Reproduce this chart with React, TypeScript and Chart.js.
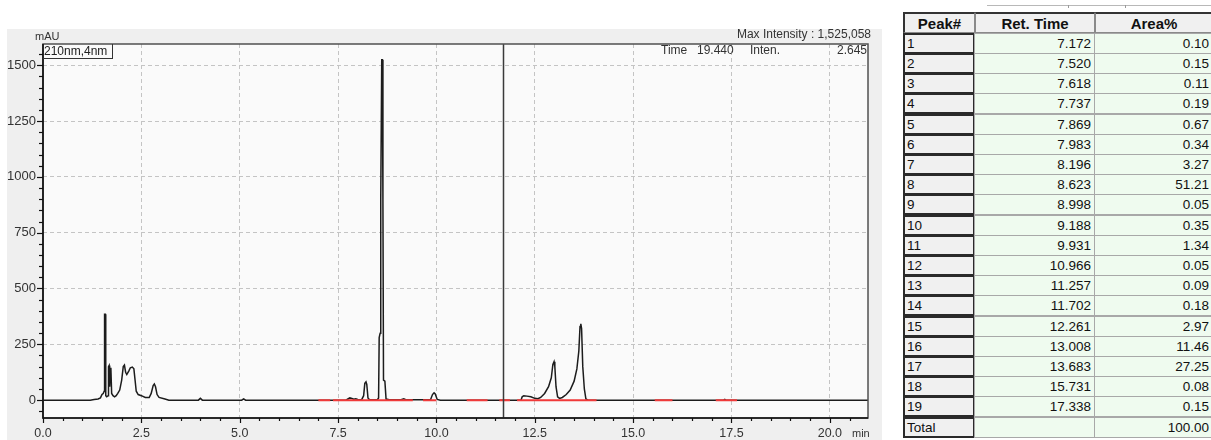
import React, { useEffect, useRef } from "react";
import { Chart, registerables } from "chart.js";

Chart.register(...registerables);

// ---- chromatogram trace (time in min, intensity in mAU) ----
const TRACE_TIME = [
  0.0, 1.2, 1.3, 1.4, 1.46, 1.5, 1.53, 1.555, 1.565, 1.585, 1.595, 1.62, 1.655, 1.665, 1.68, 1.695,
  1.71, 1.725, 1.745, 1.78, 1.82, 1.86, 1.9, 1.95, 2.0, 2.04, 2.07, 2.1, 2.13, 2.18, 2.22, 2.27,
  2.31, 2.34, 2.37, 2.42, 2.5, 2.6, 2.7, 2.75, 2.8, 2.83, 2.86, 2.9, 2.95, 3.1, 3.2,
  3.95, 4.0, 4.05, 5.05, 5.1, 5.15,
  7.7, 7.75, 7.8, 7.85, 7.9, 7.95, 8.0, 8.1, 8.15, 8.18, 8.21, 8.23, 8.26, 8.3,
  8.5, 8.53, 8.545, 8.57, 8.585, 8.61, 8.625, 8.64, 8.655, 8.69, 8.72, 8.8,
  9.1, 9.17, 9.22, 9.85, 9.9, 9.94, 9.97, 10.02, 10.1,
  12.15, 12.18, 12.22, 12.3, 12.4, 12.5, 12.58, 12.65, 12.75, 12.85, 12.92, 12.96, 12.99, 13.01,
  13.04, 13.08, 13.13, 13.2, 13.3, 13.4, 13.5, 13.57, 13.62, 13.65, 13.67, 13.69, 13.72, 13.76,
  13.8, 13.85, 17.3, 17.33, 17.36, 21.0,
];
const TRACE_MAU = [
  0, 0, 3, 5, 10, 25, 30, 40, 385, 385, 20, 15, 20, 150, 155, 60,
  140, 145, 30, 20, 15, 20, 30, 45, 90, 150, 157, 125, 115, 130, 145, 148,
  140, 90, 40, 25, 20, 12, 12, 30, 65, 72, 60, 25, 12, 5, 0,
  0, 8, 0, 0, 6, 0,
  0, 5, 10, 8, 4, 6, 3, 2, 20, 75, 82, 70, 10, 2,
  2, 10, 280, 300, 900, 1525, 1525, 900, 90, 85, 5, 2,
  2, 6, 2, 2, 25, 33, 28, 3, 0,
  0, 15, 20, 18, 15, 8, 6, 12, 30, 60, 100, 160, 172, 150,
  60, 15, 8, 12, 25, 45, 85, 140, 220, 330, 342, 320, 150, 50,
  5, 0, 0, 3, 0, 0,
];

// integration baselines (red), start/end times in min
const BASELINE_START = [7.0, 7.37, 9.66, 10.77, 11.6, 12.05, 15.55, 17.1];
const BASELINE_END = [7.3, 9.4, 10.0, 11.3, 11.87, 14.07, 16.0, 17.64];

const X_TICKS = [0, 2.5, 5, 7.5, 10, 12.5, 15, 17.5, 20];
const Y_TICKS = [0, 250, 500, 750, 1000, 1250, 1500];
const X_MIN = 0;
const X_MAX = 20.97;
const Y_MIN = -80;
const Y_MAX = 1595;
const X_MINOR_STEP = 0.5;
const Y_MINOR_STEP = 50;
const CURSOR_TIME = 11.7;

// ---- peak table ----
const PEAK_NO = ["1", "2", "3", "4", "5", "6", "7", "8", "9", "10", "11", "12", "13", "14", "15", "16", "17", "18", "19"];
const RET_TIME = ["7.172", "7.520", "7.618", "7.737", "7.869", "7.983", "8.196", "8.623", "8.998", "9.188", "9.931", "10.966", "11.257", "11.702", "12.261", "13.008", "13.683", "15.731", "17.338"];
const AREA_PCT = ["0.10", "0.15", "0.11", "0.19", "0.67", "0.34", "3.27", "51.21", "0.05", "0.35", "1.34", "0.05", "0.09", "0.18", "2.97", "11.46", "27.25", "0.08", "0.15"];
const AREA_TOTAL = "100.00";

const FONT = "'Liberation Sans', Arial, Helvetica, sans-serif";

const chromPlugin = {
  id: "chromDecor",
  beforeDraw(chart: any) {
    const { ctx, chartArea: a } = chart;
    ctx.save();
    ctx.fillStyle = "#fafafa";
    ctx.fillRect(a.left, a.top, a.right - a.left, a.bottom - a.top);
    ctx.restore();
  },
  afterDatasetsDraw(chart: any) {
    const { ctx, chartArea: a, scales } = chart;
    const xs = scales.x;
    const ys = scales.y;
    ctx.save();
    // cursor line
    const cx = Math.round(xs.getPixelForValue(CURSOR_TIME)) + 0.5;
    ctx.strokeStyle = "#3a3a3a";
    ctx.lineWidth = 1.5;
    ctx.beginPath();
    ctx.moveTo(cx, a.top);
    ctx.lineTo(cx, a.bottom);
    ctx.stroke();
    // frame
    ctx.strokeStyle = "#505050";
    ctx.lineWidth = 1.5;
    ctx.strokeRect(a.left, a.top, a.right - a.left, a.bottom - a.top);
    // axes
    ctx.strokeStyle = "#111";
    ctx.lineWidth = 1.6;
    ctx.beginPath();
    ctx.moveTo(a.left, a.top);
    ctx.lineTo(a.left, a.bottom);
    ctx.lineTo(a.right, a.bottom);
    ctx.stroke();
    // ticks
    ctx.lineWidth = 1.2;
    ctx.strokeStyle = "#111";
    for (let v = Math.ceil(Y_MIN / Y_MINOR_STEP) * Y_MINOR_STEP; v <= Y_MAX; v += Y_MINOR_STEP) {
      const py = Math.round(ys.getPixelForValue(v)) + 0.5;
      const major = Y_TICKS.includes(v);
      ctx.beginPath();
      ctx.moveTo(a.left - (major ? 6 : 4), py);
      ctx.lineTo(a.left, py);
      ctx.stroke();
    }
    for (let v = X_MIN; v <= X_MAX; v += X_MINOR_STEP) {
      const px = Math.round(xs.getPixelForValue(v)) + 0.5;
      const major = X_TICKS.some((t) => Math.abs(t - v) < 1e-6);
      ctx.beginPath();
      ctx.moveTo(px, a.bottom);
      ctx.lineTo(px, a.bottom + (major ? 5 : 3));
      ctx.stroke();
    }
    ctx.restore();
  },
};

function ChromChart() {
  const ref = useRef<HTMLCanvasElement | null>(null);
  useEffect(() => {
    if (!ref.current) return;
    const trace = TRACE_TIME.map((t, i) => ({ x: t, y: TRACE_MAU[i] }));
    const base: any[] = [];
    BASELINE_START.forEach((s, i) => {
      base.push({ x: s, y: 0 });
      base.push({ x: BASELINE_END[i], y: 0 });
      base.push({ x: BASELINE_END[i] + 0.01, y: null });
    });
    const chart = new Chart(ref.current, {
      type: "line",
      data: {
        datasets: [
          {
            data: base,
            borderColor: "#f03a3a",
            borderWidth: 2,
            pointRadius: 0,
            spanGaps: false,
            order: 0,
          },
          {
            data: trace,
            borderColor: "#1c1c1c",
            borderWidth: 1.5,
            pointRadius: 0,
            tension: 0,
            order: 5,
          },
        ],
      },
      options: {
        animation: false,
        responsive: false,
        maintainAspectRatio: false,
        events: [],
        layout: { padding: { top: 15, right: 14, left: 0, bottom: 0 } },
        plugins: { legend: { display: false }, tooltip: { enabled: false } },
        scales: {
          x: {
            type: "linear",
            min: X_MIN,
            max: X_MAX,
            afterBuildTicks: (s: any) => {
              s.ticks = X_TICKS.map((v) => ({ value: v }));
            },
            afterFit: (s: any) => {
              s.height = 22;
            },
            ticks: {
              autoSkip: false,
              maxRotation: 0,
              padding: 8,
              color: "#333",
              font: { family: FONT, size: 12.5 },
              callback: (v: any) => Number(v).toFixed(1),
            },
            grid: {
              drawTicks: false,
              color: (c: any) => (c.tick && c.tick.value === 0 ? "rgba(0,0,0,0)" : "#c4c4c4"),
              lineWidth: 1,
            },
            border: { display: false, dash: [4, 3] },
          },
          y: {
            type: "linear",
            min: Y_MIN,
            max: Y_MAX,
            afterBuildTicks: (s: any) => {
              s.ticks = Y_TICKS.map((v) => ({ value: v }));
            },
            afterFit: (s: any) => {
              s.width = 36;
            },
            ticks: {
              autoSkip: false,
              padding: 7,
              color: "#333",
              font: { family: FONT, size: 13 },
              callback: (v: any) => String(v),
            },
            grid: {
              drawTicks: false,
              color: (c: any) => (c.tick && c.tick.value === 0 ? "rgba(0,0,0,0)" : "#c4c4c4"),
              lineWidth: 1,
            },
            border: { display: false, dash: [4, 3] },
          },
        },
      },
      plugins: [chromPlugin],
    });
    return () => chart.destroy();
  }, []);
  return (
    <canvas
      ref={ref}
      width={875}
      height={411}
      style={{ position: "absolute", left: 7, top: 29, width: 875, height: 411, background: "#efefef" }}
    />
  );
}

const ROW_TOP = 32.7;
const ROW_H = 20.2;
const COL_X = [903, 975, 1095, 1213];

function PeakTable() {
  const cells: any[] = [];
  const txt = { fontFamily: FONT, fontSize: 13.5, color: "#111", lineHeight: "19px" };
  const headers = ["Peak#", "Ret. Time", "Area%"];
  headers.forEach((h, c) => {
    cells.push(
      <div
        key={"h" + c}
        style={{
          position: "absolute",
          left: COL_X[c],
          top: 12,
          width: COL_X[c + 1] - COL_X[c],
          height: ROW_TOP - 12,
          boxSizing: "border-box",
          background: "#f0f0f0",
          border: "1px solid #8a8a8a",
          borderTop: "2px solid #333",
          borderLeft: c === 0 ? "2px solid #333" : "1px solid #8a8a8a",
          textAlign: "center",
          fontFamily: FONT,
          fontWeight: "bold",
          fontSize: 15,
          lineHeight: "19px",
          color: "#111",
        }}
      >
        {h}
      </div>
    );
  });
  const rowsPk = [...PEAK_NO, "Total"];
  const rowsRt = [...RET_TIME, ""];
  const rowsAr = [...AREA_PCT, AREA_TOTAL];
  rowsPk.forEach((p, i) => {
    const top = ROW_TOP + i * ROW_H;
    cells.push(
      <div
        key={"p" + i}
        style={{
          position: "absolute",
          left: COL_X[0],
          top,
          width: COL_X[1] - COL_X[0],
          height: ROW_H + 1,
          boxSizing: "border-box",
          background: "#f0f0f0",
          border: "2px solid #2a2a2a",
          paddingLeft: 2,
          ...txt,
          lineHeight: ROW_H - 3 + "px",
        }}
      >
        {p}
      </div>
    );
    [rowsRt[i], rowsAr[i]].forEach((v, c) => {
      cells.push(
        <div
          key={"d" + i + "_" + c}
          style={{
            position: "absolute",
            left: COL_X[c + 1] - 1,
            top,
            width: COL_X[c + 2] - COL_X[c + 1] + 1,
            height: ROW_H + 1,
            boxSizing: "border-box",
            background: "#effbef",
            border: "1px solid #a8a8a8",
            textAlign: "right",
            paddingRight: 3,
            ...txt,
            lineHeight: ROW_H - 1 + "px",
          }}
        >
          {v}
        </div>
      );
    });
  });
  return <>{cells}</>;
}

export default function App() {
  const small = { position: "absolute" as const, fontFamily: FONT, color: "#333", whiteSpace: "nowrap" as const };
  return (
    <div style={{ position: "absolute", left: 0, top: 0, width: 1211, height: 440, background: "#fff", overflow: "hidden" }}>
      <ChromChart />
      <div style={{ ...small, left: 35, top: 30, fontSize: 11, lineHeight: "12px" }}>mAU</div>
      <div
        style={{
          ...small,
          left: 43,
          top: 44,
          width: 70,
          height: 15,
          boxSizing: "border-box",
          border: "1px solid #333",
          borderTop: "none",
          borderLeft: "none",
          fontSize: 12,
          lineHeight: "14px",
          paddingLeft: 1,
          color: "#222",
        }}
      >
        210nm,4nm
      </div>
      <div style={{ ...small, right: 1211 - 871, top: 27, fontSize: 12, lineHeight: "14px" }}>Max Intensity : 1,525,058</div>
      <div style={{ ...small, left: 661, top: 43, fontSize: 12, lineHeight: "14px" }}>Time</div>
      <div style={{ ...small, left: 697, top: 43, fontSize: 12, lineHeight: "14px" }}>19.440</div>
      <div style={{ ...small, left: 750, top: 43, fontSize: 12, lineHeight: "14px" }}>Inten.</div>
      <div style={{ ...small, right: 1211 - 867, top: 43, fontSize: 12, lineHeight: "14px" }}>2.645</div>
      <div style={{ ...small, left: 852, top: 426, fontSize: 11, lineHeight: "14px" }}>min</div>
      <div style={{ position: "absolute", left: 987, top: 5, width: 230, height: 1, background: "#b8b8b8" }} />
      <div style={{ position: "absolute", left: 1068, top: 5, width: 1, height: 3, background: "#999" }} />
      <div style={{ position: "absolute", left: 1125, top: 5, width: 1, height: 3, background: "#999" }} />
      <PeakTable />
    </div>
  );
}
